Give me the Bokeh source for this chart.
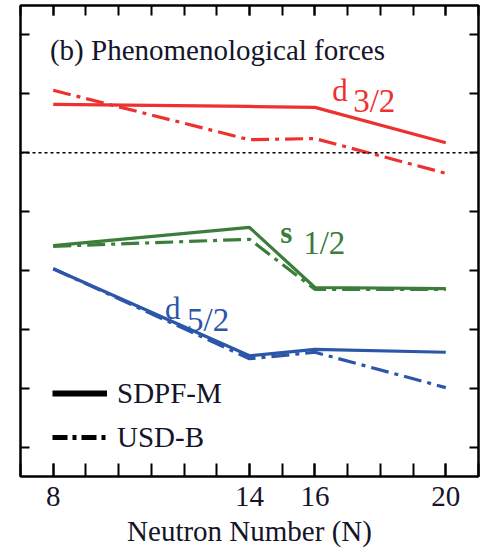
from bokeh.plotting import figure
from bokeh.models import (Range1d, FixedTicker, LinearAxis, Span, Legend, LegendItem,
                          ColumnDataSource, CustomJSTickFormatter)
from bokeh.core.properties import value
from bokeh.embed import file_html
from bokeh.resources import INLINE

# ---- data ----
neutron_number = [8, 14, 16, 20]
d32_sdpfm = [0.82, 0.785, 0.77, 0.17]
d32_usdb = [1.06, 0.22, 0.24, -0.35]
s12_sdpfm = [-1.58, -1.27, -2.29, -2.31]
s12_usdb = [-1.59, -1.47, -2.32, -2.32]
d52_sdpfm = [-1.97, -3.45, -3.34, -3.39]
d52_usdb = [-1.97, -3.50, -3.39, -3.99]
x_tick_labels = [8, 14, 16, 20]
y_ticks = [-5, -4, -3, -2, -1, 0, 1, 2]
legend_names = ["SDPF-M", "USD-B"]

RED = "#ee3030"
GREEN = "#3b7d3b"
BLUE = "#2c56a8"
INK = "#14142a"
FONT = "Liberation Serif"
DASHDOT = "18 6 4 6"

p = figure(width=481, height=550, output_backend="svg", toolbar_location=None,
           x_range=Range1d(7, 21), y_range=Range1d(-5.5, 2.5),
           min_border_left=20, min_border_right=3, min_border_top=5, min_border_bottom=74,
           background_fill_color="white", border_fill_color="white")
p.grid.visible = False
p.outline_line_color = "black"
p.outline_line_width = 2

minor = list(range(7, 22))
blank = CustomJSTickFormatter(code="return ''")

ax = p.xaxis[0]
ax.ticker = FixedTicker(ticks=x_tick_labels, minor_ticks=minor)
ax.axis_label = "Neutron Number (N)"
ax.axis_label_text_font = FONT
ax.axis_label_text_font_size = "29px"
ax.axis_label_text_font_style = "normal"
ax.axis_label_text_color = INK
ax.axis_label_standoff = 6
ax.major_label_text_font = FONT
ax.major_label_text_font_size = "29px"
ax.major_label_text_color = INK
ax.major_label_standoff = 10
ax.major_tick_in = 13
ax.major_tick_out = 0
ax.minor_tick_in = 13
ax.minor_tick_out = 0
ax.axis_line_width = 2
ax.major_tick_line_width = 2
ax.minor_tick_line_width = 2

ay = p.yaxis[0]
ay.ticker = FixedTicker(ticks=y_ticks, minor_ticks=[])
ay.formatter = blank
ay.major_tick_in = 9
ay.major_tick_out = 0
ay.minor_tick_in = 0
ay.minor_tick_out = 0
ay.axis_line_width = 2
ay.major_tick_line_width = 2

top = LinearAxis(ticker=FixedTicker(ticks=x_tick_labels, minor_ticks=minor),
                 formatter=CustomJSTickFormatter(code="return ''"),
                 major_tick_in=10, major_tick_out=0,
                 minor_tick_in=10, minor_tick_out=0, axis_line_width=2,
                 major_tick_line_width=2, minor_tick_line_width=2)
p.add_layout(top, "above")
right = LinearAxis(ticker=FixedTicker(ticks=y_ticks, minor_ticks=[]),
                   formatter=CustomJSTickFormatter(code="return ''"),
                   major_tick_in=9, major_tick_out=0,
                   minor_tick_in=0, minor_tick_out=0, axis_line_width=2,
                   major_tick_line_width=2)
p.add_layout(right, "right")

p.add_layout(Span(location=0, dimension="width", line_color="black",
                  line_dash="3 3", line_width=1.5))

src = ColumnDataSource(dict(N=neutron_number, d32a=d32_sdpfm, d32b=d32_usdb,
                            s12a=s12_sdpfm, s12b=s12_usdb, d52a=d52_sdpfm, d52b=d52_usdb))
for col, color in [("d32", RED), ("s12", GREEN), ("d52", BLUE)]:
    p.line("N", col + "a", source=src, line_color=color, line_width=3.2)
    p.line("N", col + "b", source=src, line_color=color, line_width=3.2, line_dash=DASHDOT)

# legend proxies (drawn off-range so only the legend swatch shows)
r_solid = p.line([0, 1], [0, 0], line_color="black", line_width=6)
r_dash = p.line([0, 1], [0, 0], line_color="black", line_width=5, line_dash="15 5 4 5")
leg = Legend(items=[LegendItem(label=legend_names[0], renderers=[r_solid]),
                    LegendItem(label=legend_names[1], renderers=[r_dash])],
             location=(32, 22), padding=0, margin=0, spacing=10,
             glyph_width=55, glyph_height=34, label_height=34, label_standoff=10,
             label_text_font=FONT, label_text_font_size="29px", label_text_color=INK,
             label_text_baseline="middle",
             border_line_color=None, background_fill_alpha=0)
p.add_layout(leg)

# annotations
tf = value(FONT)
p.text(x=[7.90], y=[1.736], text=["(b) Phenomenological forces"], text_font=tf,
       text_font_size="29px", text_color=INK, text_baseline="alphabetic")
p.text(x=[16.53], y=[1.056], text=["d"], text_font=tf, text_font_size="31px",
       text_color=RED, text_baseline="alphabetic")
p.text(x=[17.17], y=[0.886], text=["3/2"], text_font=tf, text_font_size="33px",
       text_color=RED, text_baseline="alphabetic")
p.text(x=[14.94], y=[-1.356], text=["s"], text_font=tf, text_font_size="31px",
       text_color=GREEN, text_baseline="alphabetic", text_font_style="bold")
p.text(x=[15.64], y=[-1.542], text=["1/2"], text_font=tf, text_font_size="33px",
       text_color=GREEN, text_baseline="alphabetic")
p.text(x=[11.42], y=[-2.647], text=["d"], text_font=tf, text_font_size="31px",
       text_color=BLUE, text_baseline="alphabetic")
p.text(x=[12.09], y=[-2.850], text=["5/2"], text_font=tf, text_font_size="33px",
       text_color=BLUE, text_baseline="alphabetic")

open("out.html", "w").write(file_html(p, INLINE))
